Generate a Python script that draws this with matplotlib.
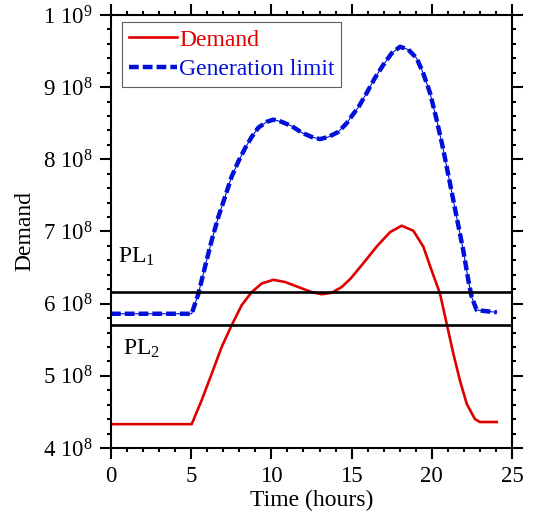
import matplotlib

matplotlib.use("Agg")
import matplotlib.pyplot as plt
from matplotlib.ticker import FixedLocator, MultipleLocator

# values
demand_t = [0, 5.03, 5.65, 6.28, 6.9, 7.52, 8.15, 8.77, 9.4, 10.12, 10.85, 11.68,
            12.51, 13.13, 13.76, 14.38, 14.95, 15.73, 16.56, 17.39, 18.12, 18.85,
            19.47, 19.99, 20.51, 20.93, 21.34, 21.76, 22.18, 22.69, 23.0, 24.05]
demand = [4.33e8, 4.33e8, 4.66e8, 5.03e8, 5.40e8, 5.70e8, 5.98e8, 6.16e8, 6.28e8,
          6.33e8, 6.30e8, 6.23e8, 6.16e8, 6.13e8, 6.15e8, 6.23e8, 6.35e8, 6.56e8,
          6.79e8, 6.99e8, 7.08e8, 7.01e8, 6.79e8, 6.46e8, 6.14e8, 5.72e8, 5.31e8,
          4.93e8, 4.61e8, 4.40e8, 4.36e8, 4.36e8]

gen_t = [0, 5.03, 5.45, 5.86, 6.28, 6.69, 7.11, 7.52, 7.94, 8.35, 8.77, 9.19, 9.71,
         10.12, 10.64, 11.27, 11.89, 12.51, 13.03, 13.55, 14.17, 14.69, 15.11,
         15.42, 15.94, 16.46, 16.98, 17.5, 18.02, 18.54, 19.06, 19.47, 19.89, 20.3,
         20.72, 21.13, 21.55, 21.96, 22.28, 22.49, 22.8, 24.05]
gen = [5.86e8, 5.86e8, 6.14e8, 6.51e8, 6.88e8, 7.20e8, 7.48e8, 7.76e8, 7.97e8,
       8.15e8, 8.31e8, 8.44e8, 8.52e8, 8.55e8, 8.52e8, 8.46e8, 8.37e8, 8.31e8,
       8.28e8, 8.31e8, 8.38e8, 8.50e8, 8.63e8, 8.72e8, 8.92e8, 9.13e8, 9.31e8,
       9.47e8, 9.56e8, 9.52e8, 9.40e8, 9.19e8, 8.92e8, 8.55e8, 8.13e8, 7.67e8,
       7.20e8, 6.74e8, 6.32e8, 6.09e8, 5.91e8, 5.88e8]

pl1 = 6.16e8
pl2 = 5.71e8

y_ticks = [4e8, 5e8, 6e8, 7e8, 8e8, 9e8, 1e9]
y_labels = [r"4 10$^{8}$", r"5 10$^{8}$", r"6 10$^{8}$", r"7 10$^{8}$",
            r"8 10$^{8}$", r"9 10$^{8}$", r"1 10$^{9}$"]

RED = "#e00000"
BLUE = "#0010d8"

plt.rcParams.update({
    "font.family": "serif",
    "font.serif": ["Liberation Serif"],
    "mathtext.fontset": "custom",
    "mathtext.rm": "Liberation Serif",
    "mathtext.it": "Liberation Serif:italic",
    "mathtext.bf": "Liberation Serif:bold",
})

fig = plt.figure(figsize=(5.35, 5.17), dpi=100)
ax = fig.add_axes([0.2075, 0.1335, 0.7495, 0.8375])

ax.plot(demand_t, demand, color=RED, linewidth=1.9, label="Demand")
ax.plot(gen_t, gen, color=BLUE, linewidth=0.8)
ax.plot(gen_t, gen, color=BLUE, linewidth=3.2, dashes=(2.2, 0.9),
        label="Generation limit")

ax.axhline(pl1, color="black", linewidth=1.9)
ax.axhline(pl2, color="black", linewidth=1.9)
ax.text(0.45, 6.65e8, r"PL$_{1}$", fontsize=17, va="center", ha="left")
ax.text(0.75, 5.38e8, r"PL$_{2}$", fontsize=17, va="center", ha="left")

ax.set_xlim(0, 25)
ax.set_ylim(4e8, 1e9)
ax.xaxis.set_major_locator(MultipleLocator(5))
ax.xaxis.set_minor_locator(MultipleLocator(1))
ax.yaxis.set_major_locator(FixedLocator(y_ticks))
ax.set_yticklabels(y_labels)
ax.yaxis.set_minor_locator(MultipleLocator(2e7))

for spine in ax.spines.values():
    spine.set_linewidth(1.5)
ax.tick_params(which="both", direction="out", top=True, right=True, width=1.5)
ax.tick_params(which="major", length=8, labelsize=16.5, pad=5)
ax.tick_params(which="minor", length=3)

ax.set_xlabel("Time (hours)", fontsize=17, labelpad=2)
ax.set_ylabel("Demand", fontsize=17, labelpad=6)

leg = ax.legend(loc="upper left", bbox_to_anchor=(0.028, 0.984), fontsize=17,
                frameon=True, fancybox=False, edgecolor="#333333",
                handlelength=2.0, handletextpad=0.1, borderpad=0.3,
                labelspacing=0.35, borderaxespad=0)
leg.get_frame().set_linewidth(0.8)
for txt, col in zip(leg.get_texts(), [RED, BLUE]):
    txt.set_color(col)

fig.savefig("out.png", dpi=100)
